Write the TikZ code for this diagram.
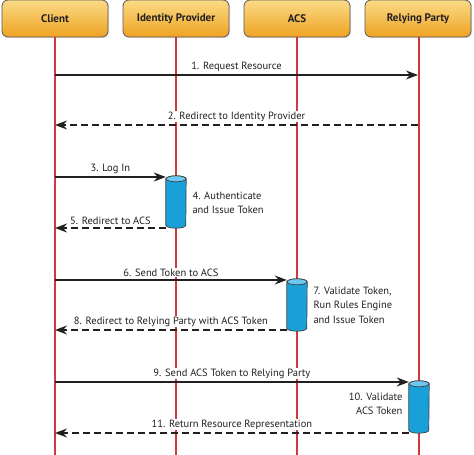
\documentclass[tikz,border=0pt]{standalone}
\usepackage{fontspec}
\setmainfont{PT Sans}
\usetikzlibrary{arrows.meta,positioning,shadows}
\definecolor{hdrtop}{HTML}{FBDA86}
\definecolor{hdrbot}{HTML}{EFA322}
\definecolor{lifered}{HTML}{D2373C}
\definecolor{cylbody}{HTML}{1AA0D8}
\definecolor{cyltop}{HTML}{6CC8EE}
\definecolor{txt}{HTML}{231F20}
% cylinder drawn on a named box
\newcommand\cylsketch[1]{%
  \filldraw[cylbody,draw=black!75,line width=0.7pt]
    ([yshift=-3pt]#1.north west) -- ([yshift=3pt]#1.south west)
    arc[start angle=180,end angle=360,x radius=10pt,y radius=3pt]
    -- ([yshift=-3pt]#1.north east)
    arc[start angle=0,end angle=180,x radius=10pt,y radius=3pt] -- cycle;
  \filldraw[cyltop,draw=black!75,line width=0.7pt]
    ([yshift=-3pt]#1.north) ellipse[x radius=10pt,y radius=3pt];}

\begin{document}
\begin{tikzpicture}[x=1pt,y=-1pt,node distance=121pt,on grid,
    >={Stealth[length=12pt,width=9pt]},
    actor/.style={draw=black!65,line width=0.8pt,rounded corners=6pt,
      top color=hdrtop,bottom color=hdrbot,minimum width=106pt,minimum height=37pt,
      drop shadow={opacity=0.25,shadow xshift=1pt,shadow yshift=-1pt},
      text=txt,font=\bfseries\fontsize{11}{12}\selectfont},
    life/.style={lifered,line width=1.3pt},
    msg/.style={->,line width=1.4pt,txt},
    reply/.style={msg,dash pattern=on 7pt off 4pt},
    lbl/.style={anchor=south,yshift=2pt,fill=white,inner sep=1pt,text=txt,
      font=\fontsize{10.5}{12}\selectfont},
    note/.style={text=txt,font=\fontsize{10.5}{14.5}\selectfont},
    proc/.style={minimum width=20pt,minimum height=52pt,inner sep=0pt}]
  \useasboundingbox (0,0) rectangle (474,455);

  % participants
  \node[actor] (client) at (55,18.5) {Client};
  \node[actor] (idp) [right=of client] {Identity Provider};
  \node[actor] (acs) [right=of idp] {ACS};
  \node[actor] (rp) [right=of acs] {Relying Party};

  \coordinate (bottom) at (0,455);
  \draw[life] (client.south) -- (client |- bottom);
  \draw[life] (idp.south) -- (idp |- bottom);
  \draw[life] (acs.south) -- (acs |- bottom);
  \draw[life] ([xshift=1pt]rp.south) -- ([xshift=1pt]rp |- bottom);

  % activations
  \node[proc] (auth) at (176,202) {};
  \node[proc] (valid) at (297,305) {};
  \node[proc] (check) at (419,407) {};
  \cylsketch{auth}
  \cylsketch{valid}
  \cylsketch{check}

  \node[note,anchor=west,align=left] at (189,203) {4. Authenticate\\and Issue Token};
  \node[note,anchor=west,align=left] at (310,305) {7. Validate Token,\\Run Rules Engine\\and Issue Token};
  \node[note,anchor=east,align=right] at (406,404) {10. Validate\\ACS Token};

  % message ends
  \coordinate (c1) at (55,75);   \coordinate (r1) at (418,75);
  \coordinate (c2) at (55,125);  \coordinate (r2) at (418,125);
  \coordinate (c3) at (55,177);  \coordinate (c5) at (55,228);
  \coordinate (c6) at (55,280);  \coordinate (c8) at (55,330);
  \coordinate (c9) at (55,382);  \coordinate (c11) at (55,433);

  \draw[msg] (c1) -- node[lbl] {1. Request Resource} (r1);
  \draw[reply] (r2) -- node[lbl] {2. Redirect to Identity Provider} (c2);
  \draw[msg] (c3) -- node[lbl] {3. Log In} (auth.west |- c3);
  \draw[reply] (auth.west |- c5) -- node[lbl] {5. Redirect to ACS} (c5);
  \draw[msg] (c6) -- node[lbl] {6. Send Token to ACS} (valid.west |- c6);
  \draw[reply] (valid.west |- c8) -- node[lbl] {8. Redirect to Relying Party with ACS Token} (c8);
  \draw[msg] (c9) -- node[lbl] {9. Send ACS Token to Relying Party} (check.west |- c9);
  \draw[reply] (check.west |- c11) -- node[lbl] {11. Return Resource Representation} (c11);
\end{tikzpicture}
\end{document}
